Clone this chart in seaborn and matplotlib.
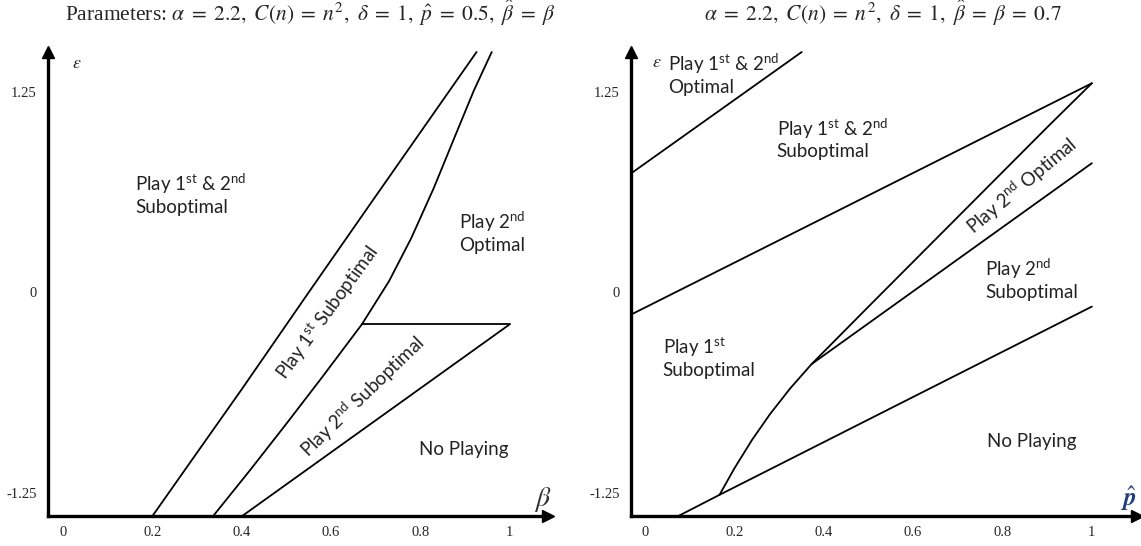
import numpy as np
import pandas as pd
import matplotlib
matplotlib.use('Agg')
import matplotlib.pyplot as plt
import seaborn as sns

sns.set_style('white')
plt.rcParams['mathtext.rm'] = 'Lato'
plt.rcParams['mathtext.it'] = 'Lato:italic'

# ---- left panel: regions in (beta, eps) ----
curve1_beta = [0.200, 0.300, 0.400, 0.550, 0.700, 0.926]
curve1_eps = [-1.396, -1.00, -0.605, 0.00, 0.60, 1.50]
curve2_beta = [0.336, 0.420, 0.500, 0.580, 0.669, 0.730, 0.780, 0.830, 0.880, 0.920, 0.960]
curve2_eps = [-1.396, -1.105, -0.82, -0.53, -0.20, 0.07, 0.34, 0.65, 0.99, 1.26, 1.50]
flat_beta = [0.669, 1.0]
flat_eps = [-0.20, -0.20]
line3_beta = [0.401, 1.0]
line3_eps = [-1.396, -0.20]

# ---- right panel: regions in (p_hat, eps) ----
lineA_p = [-0.031, 0.351]
lineA_eps = [0.742, 1.50]
lineB_p = [-0.031, 1.0]
lineB_eps = [-0.139, 1.305]
curveC_p = [0.167, 0.200, 0.240, 0.280, 0.325, 0.373, 0.500, 0.700, 0.900, 1.0]
curveC_eps = [-1.264, -1.10, -0.92, -0.76, -0.60, -0.448, -0.09, 0.47, 1.03, 1.305]
lineD_p = [0.373, 1.0]
lineD_eps = [-0.448, 0.806]
lineE_p = [0.075, 0.167, 1.0]
lineE_eps = [-1.396, -1.264, -0.089]

xticks = [0, 0.2, 0.4, 0.6, 0.8, 1]
xtick_labels = ['0', '0.2', '0.4', '0.6', '0.8', '1']
yticks = [-1.25, 0, 1.25]
ytick_labels = ['-1.25', '0', '1.25']

ST = r'$^{\mathrm{st}}$'
ND = r'$^{\mathrm{nd}}$'

fig = plt.figure(figsize=(11.41, 5.46), dpi=100, facecolor='white')
ax1 = fig.add_axes([48 / 1141, 30 / 546, 500 / 1141, 464 / 546])
ax2 = fig.add_axes([631 / 1141, 30 / 546, 506 / 1141, 464 / 546])
ax1.set_xlim(-0.034, 1.086)
ax2.set_xlim(-0.031, 1.101)


def style_axes(ax):
    ax.set_ylim(-1.396, 1.5)
    sns.despine(ax=ax)
    for s in ['left', 'bottom']:
        ax.spines[s].set_linewidth(2.4)
        ax.spines[s].set_color('black')
    ax.plot(1, 0, '>k', ms=9, transform=ax.transAxes, clip_on=False)
    ax.plot(0, 1, '^k', ms=9, transform=ax.transAxes, clip_on=False)
    ax.set_xticks(xticks)
    ax.set_xticklabels(xtick_labels, family='Liberation Serif', fontsize=10.5)
    ax.set_yticks(yticks)
    ax.set_yticklabels(ytick_labels, family='Liberation Serif', fontsize=10.5)
    ax.tick_params(axis='x', direction='inout', length=9, width=1, color='black', pad=3)
    ax.tick_params(axis='y', direction='inout', length=14, width=1, color='black', pad=1)
    ax.set_xlabel('')
    ax.set_ylabel('')


def seg(ax, x, y):
    df = pd.DataFrame({'x': x, 'y': y})
    sns.lineplot(data=df, x='x', y='y', ax=ax, color='black', lw=1.3,
                 sort=False, estimator=None, clip_on=False)


def label(ax, x, y, s, **kw):
    ax.text(x, y, s, fontsize=13.5, family='Lato', color='#222222',
            math_fontfamily='custom', linespacing=1.2, **kw)


# left panel
seg(ax1, curve1_beta, curve1_eps)
seg(ax1, curve2_beta, curve2_eps)
seg(ax1, flat_beta, flat_eps)
seg(ax1, line3_beta, line3_eps)
style_axes(ax1)
label(ax1, 0.161, 0.614, 'Play 1' + ST + ' & 2' + ND + '\nSuboptimal', ha='left', va='center')
label(ax1, 0.886, 0.377, 'Play 2' + ND + '\nOptimal', ha='left', va='center')
label(ax1, 0.592, -0.126, 'Play 1' + ST + ' Suboptimal', ha='center', va='center',
      rotation=54, rotation_mode='anchor')
label(ax1, 0.670, -0.648, 'Play 2' + ND + ' Suboptimal', ha='center', va='center',
      rotation=44, rotation_mode='anchor')
label(ax1, 0.797, -0.979, 'No Playing', ha='left', va='center')
ax1.text(0.02, 1.433, r'$\epsilon$', fontsize=13, ha='left', va='center', math_fontfamily='stix')
ax1.text(1.075, -1.29, r'$\beta$', fontsize=20, ha='center', va='center',
         math_fontfamily='stix', color='#333333')

# right panel
seg(ax2, lineA_p, lineA_eps)
seg(ax2, lineB_p, lineB_eps)
seg(ax2, curveC_p, curveC_eps)
seg(ax2, lineD_p, lineD_eps)
seg(ax2, lineE_p, lineE_eps)
style_axes(ax2)
label(ax2, 0.051, 1.361, 'Play 1' + ST + ' & 2' + ND + '\nOptimal', ha='left', va='center')
label(ax2, 0.295, 0.961, 'Play 1' + ST + ' & 2' + ND + '\nSuboptimal', ha='left', va='center')
label(ax2, 0.843, 0.667, 'Play 2' + ND + ' Optimal', ha='center', va='center',
      rotation=40, rotation_mode='anchor')
label(ax2, 0.761, 0.086, 'Play 2' + ND + '\nSuboptimal', ha='left', va='center')
label(ax2, 0.040, -0.408, 'Play 1' + ST + '\nSuboptimal', ha='left', va='center')
label(ax2, 0.765, -0.933, 'No Playing', ha='left', va='center')
ax2.text(0.016, 1.435, r'$\epsilon$', fontsize=13, ha='left', va='center', math_fontfamily='stix')
ax2.text(1.082, -1.29, r'$\hat{\mathbfit{p}}$', fontsize=18, ha='center', va='center',
         math_fontfamily='stix', color='#1f3f7a')

# titles
fig.text(310 / 1141, 1 - 13 / 546,
         r'Parameters: $\alpha\;=\;2.2,\ C(n)\;=\;n^2,\ \delta\;=\;1,\ \hat{p}\;=\;0.5,\ \hat{\beta}\;=\;\beta$',
         ha='center', va='center', fontsize=15.5, family='Liberation Serif', math_fontfamily='stix')
fig.text(883 / 1141, 1 - 13 / 546,
         r'$\alpha\;=\;2.2,\ C(n)\;=\;n^2,\ \delta\;=\;1,\ \hat{\beta}\;=\;\beta\;=\;0.7$',
         ha='center', va='center', fontsize=15.5, family='Liberation Serif', math_fontfamily='stix')

fig.savefig('out.png', dpi=100, facecolor='white')
